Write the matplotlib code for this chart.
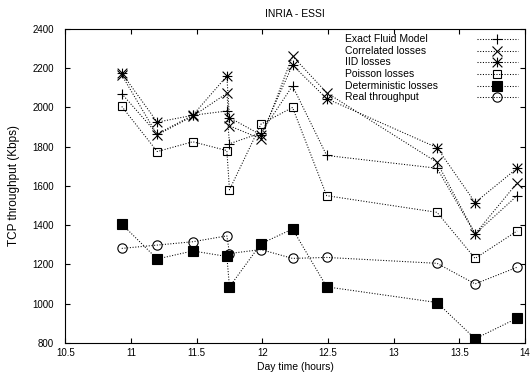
import matplotlib
matplotlib.use("Agg")
import matplotlib.pyplot as plt
from matplotlib.path import Path
from matplotlib.lines import Line2D

plt.rcParams['font.family'] = ['Liberation Sans', 'DejaVu Sans']

# ---- data ----
hours = [10.93, 11.2, 11.47, 11.73, 11.75, 11.99, 12.23, 12.49, 13.33, 13.62, 13.94]
exact_fluid = [2070, 1865, 1960, 1982, 1815, 1870, 2110, 1755, 1690, 1355, 1550]
correlated = [2165, 1860, 1955, 2072, 1906, 1840, 2262, 2075, 1720, 1355, 1615]
iid = [2175, 1925, 1960, 2160, 1948, 1860, 2216, 2045, 1795, 1515, 1690]
poisson = [2005, 1775, 1825, 1780, 1580, 1915, 2000, 1550, 1465, 1230, 1370]
deterministic = [1405, 1227, 1268, 1240, 1085, 1305, 1380, 1085, 1005, 820, 925]
real = [1281, 1298, 1315, 1345, 1255, 1275, 1230, 1235, 1205, 1100, 1185]

series_names = ["Exact Fluid Model", "Correlated losses", "IID losses",
                "Poisson losses", "Deterministic losses", "Real throughput"]
xticks = [10.5, 11, 11.5, 12, 12.5, 13, 13.5, 14]
xtick_labels = ["10.5", "11", "11.5", "12", "12.5", "13", "13.5", "14"]
yticks = [800, 1000, 1200, 1400, 1600, 1800, 2000, 2200, 2400]

# gnuplot-style star (+ overlaid with x)
star = Path([(-0.5, 0), (0.5, 0), (0, -0.5), (0, 0.5),
             (-0.5, -0.5), (0.5, 0.5), (-0.5, 0.5), (0.5, -0.5)],
            [Path.MOVETO, Path.LINETO] * 4)

styles = [
    dict(marker='+', markersize=7.5, mfc='none'),
    dict(marker='x', markersize=7, mfc='none'),
    dict(marker=star, markersize=7, mfc='none'),
    dict(marker='s', markersize=6.3, mfc='none'),
    dict(marker='s', markersize=6.7, mfc='black'),
    dict(marker='o', markersize=6.7, mfc='none'),
]
all_series = [exact_fluid, correlated, iid, poisson, deterministic, real]

fig = plt.figure(figsize=(5.3, 3.75), dpi=100)
ax = fig.add_axes([0.1232, 0.0861, 0.8674, 0.8365])

ls = (0, (1, 1.6))
for vals, st in zip(all_series, styles):
    ax.plot(hours, vals, color='black', linestyle=ls, linewidth=0.75,
            mec='black', mew=0.8, **st)

ax.set_xlim(10.5, 14)
ax.set_ylim(800, 2400)
ax.set_xticks(xticks)
ax.set_xticklabels(xtick_labels)
ax.set_yticks(yticks)
ax.tick_params(direction='in', top=True, right=True, length=3.6, width=0.8,
               labelsize=7)
ax.tick_params(axis='x', pad=4)
ax.tick_params(axis='y', pad=8)
for sp in ax.spines.values():
    sp.set_linewidth(0.8)

ax.set_title("INRIA - ESSI", fontsize=7.5, pad=9)
ax.set_xlabel("Day time (hours)", fontsize=7.5, labelpad=3)
ax.set_ylabel("TCP throughput (Kbps)", fontsize=8.5, labelpad=9)

# gnuplot-style key: text left, sample on the right
row0 = 0.968
dy = 0.0371
for i, (name, st) in enumerate(zip(series_names, styles)):
    yk = row0 - i * dy
    ax.text(0.6085, yk, name, transform=ax.transAxes, fontsize=7.5,
            va='center', ha='left')
    ax.add_line(Line2D([0.895, 0.9855], [yk, yk], transform=ax.transAxes,
                       color='black', linestyle=ls, linewidth=0.75))
    ax.add_line(Line2D([0.9385], [yk], transform=ax.transAxes, color='black',
                       linestyle='none', mec='black', mew=0.8, **st))

fig.savefig("out.png", dpi=100)
